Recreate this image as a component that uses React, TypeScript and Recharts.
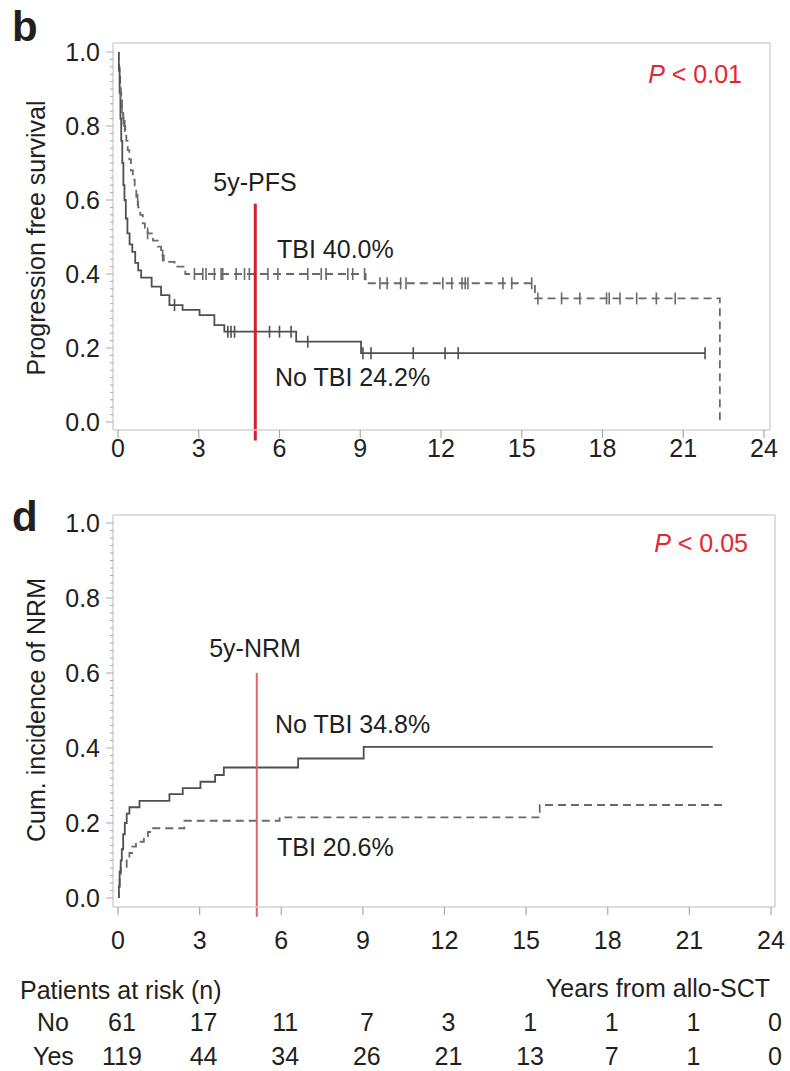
import React from "react";
import { ComposedChart, Line, Scatter, XAxis, YAxis, ReferenceLine } from "recharts";

const FONT = '"Liberation Sans", Arial, Helvetica, sans-serif';
const TEXT = "#231f20";
const RED = "#e4262f";
const BOX = "#d2d2d2";
const TICK = "#a8a8a8";
const SOLID = "#4f4f4f";
const DASHED = "#6a6a6a";

// ---- panel b: progression free survival, step points [years, survival]
const pfsNoTbi: [number, number][] = [
  [0, 1.0], [0.03, 0.95], [0.06, 0.89], [0.09, 0.82], [0.12, 0.76], [0.16, 0.7],
  [0.2, 0.64], [0.24, 0.6], [0.29, 0.55], [0.35, 0.51], [0.43, 0.48], [0.53, 0.46],
  [0.64, 0.43], [0.75, 0.41], [0.86, 0.39], [1.25, 0.366], [1.6, 0.343], [1.91, 0.316],
  [2.4, 0.303], [3.03, 0.289], [3.58, 0.262], [3.95, 0.244], [6.62, 0.217], [9.03, 0.186],
  [21.81, 0.186],
];
const pfsTbi: [number, number][] = [
  [0, 1.0], [0.02, 0.98], [0.04, 0.96], [0.06, 0.94], [0.08, 0.91], [0.1, 0.89],
  [0.12, 0.87], [0.15, 0.85], [0.19, 0.82], [0.23, 0.8], [0.27, 0.78], [0.31, 0.76],
  [0.36, 0.735], [0.42, 0.71], [0.48, 0.68], [0.55, 0.655], [0.62, 0.63], [0.68, 0.6],
  [0.75, 0.58], [0.83, 0.56], [0.92, 0.537], [1.0, 0.525], [1.1, 0.51], [1.3, 0.49],
  [1.48, 0.474], [1.6, 0.45], [1.7, 0.433], [2.1, 0.42], [2.5, 0.4], [9.2, 0.375],
  [15.49, 0.334], [22.36, 0.0],
];
const pfsNoTbiCensored = [2.1, 4.08, 4.2, 4.33, 5.63, 6.0, 6.43, 7.05, 9.1, 9.4, 10.97, 12.15, 12.64, 21.81];
const pfsTbiCensored = [
  0.1, 0.15, 0.2, 0.25, 0.73, 1.1, 1.66, 2.84, 3.15, 3.27, 3.58, 3.83, 3.89, 4.39, 4.7, 4.88,
  5.57, 5.94, 7.05, 7.55, 7.73, 8.54, 8.72, 9.16, 9.73, 10.0, 10.5, 10.7, 12.07, 12.4, 12.78,
  12.9, 13.0, 14.3, 14.63, 15.37, 15.6, 16.48, 17.16, 18.15, 18.25, 18.65, 19.27, 20.0, 20.7,
];

// ---- panel d: cumulative incidence of NRM
const nrmNoTbi: [number, number][] = [
  [0, 0], [0.03, 0.03], [0.06, 0.07], [0.1, 0.1], [0.14, 0.13], [0.19, 0.17], [0.25, 0.2],
  [0.32, 0.225], [0.42, 0.242], [0.79, 0.259], [1.89, 0.277], [2.38, 0.293], [3.03, 0.31],
  [3.57, 0.328], [3.89, 0.348], [6.62, 0.372], [9.03, 0.403], [21.86, 0.403],
];
const nrmTbi: [number, number][] = [
  [0, 0], [0.03, 0.03], [0.06, 0.06], [0.1, 0.083], [0.32, 0.1], [0.42, 0.12], [0.52, 0.137],
  [0.66, 0.15], [0.95, 0.165], [1.1, 0.176], [1.28, 0.186], [2.44, 0.206], [5.94, 0.215],
  [15.5, 0.248], [22.37, 0.248],
];

const xTicks = [0, 3, 6, 9, 12, 15, 18, 21, 24];
const yMinorTicks = Array.from({ length: 51 }, (_, i) => i / 50);
const landmarkYears = 5.1;

const riskTimes = [0, 3, 6, 9, 12, 15, 18, 21, 24];
const riskNo = [61, 17, 11, 7, 3, 1, 1, 1, 0];
const riskYes = [119, 44, 34, 26, 21, 13, 7, 1, 0];

const rows = (pts: [number, number][]) => pts.map(([t, v]) => ({ t, v }));
const valueAt = (pts: [number, number][], t: number) => {
  let v = pts[0][1];
  for (const [pt, pv] of pts) if (pt <= t) v = pv;
  return v;
};
const censorRows = (pts: [number, number][], times: number[]) => times.map((t) => ({ t, v: valueAt(pts, t) }));

function Txt({ x, y, anchor = "middle", size = 25, style, children }: any) {
  const tx = anchor === "start" ? "0" : anchor === "end" ? "-100%" : "-50%";
  return (
    <div
      style={{
        position: "absolute",
        left: x,
        top: y,
        transform: `translate(${tx},-50%)`,
        whiteSpace: "nowrap",
        lineHeight: 1,
        fontFamily: FONT,
        fontSize: size,
        color: TEXT,
        ...style,
      }}
    >
      {children}
    </div>
  );
}

const YTick = (props: any) => {
  const { x, y, payload } = props;
  const v = payload.value;
  const major = Math.abs(v * 5 - Math.round(v * 5)) < 1e-6;
  return (
    <g>
      <line x1={x - (major ? 7 : 3)} x2={x} y1={y} y2={y} stroke={TICK} strokeWidth={1} />
      {major && (
        <text x={x - 13} y={y} dy="0.36em" textAnchor="end" fontFamily={FONT} fontSize={25} fill={TEXT}>
          {v.toFixed(1)}
        </text>
      )}
    </g>
  );
};

const makeXTick = (labelOffset: number) => (props: any) => {
  const { x, y, payload } = props;
  return (
    <g>
      <line x1={x} x2={x} y1={y} y2={y + 8} stroke={TICK} strokeWidth={1.2} />
      <text x={x} y={y + labelOffset} dy="0.36em" textAnchor="middle" fontFamily={FONT} fontSize={25} fill={TEXT}>
        {payload.value}
      </text>
    </g>
  );
};

const makeRiskTick = (values: number[]) => (props: any) => {
  const { x, y, payload } = props;
  const i = riskTimes.indexOf(payload.value);
  return (
    <text x={x + 4} y={y + 16} dy="0.36em" textAnchor="middle" fontFamily={FONT} fontSize={25} fill={TEXT}>
      {values[i]}
    </text>
  );
};

const censorShape = (color: string) => (props: any) => {
  const { cx, cy } = props;
  return <line x1={cx} x2={cx} y1={cy - 6} y2={cy + 6} stroke={color} strokeWidth={1.6} />;
};

const hiddenLine = { type: "stepAfter" as const, dataKey: "v", dot: false, activeDot: false, isAnimationActive: false, stroke: "none", legendType: "none" as const };

export default function App() {
  const lineCommon = { type: "stepAfter" as const, dataKey: "v", dot: false, activeDot: false, isAnimationActive: false, strokeWidth: 1.8 };
  return (
    <div style={{ position: "absolute", left: 0, top: 0, width: 790, height: 1071, background: "#fff", fontFamily: FONT }}>
      {/* panel b */}
      <div style={{ position: "absolute", left: 0, top: 0 }}>
        <ComposedChart width={790} height={470} margin={{ top: 42, right: 19, left: 0, bottom: 0 }}>
          <XAxis
            dataKey="t"
            type="number"
            domain={[0, 24]}
            ticks={xTicks}
            interval={0}
            padding={{ left: 5, right: 6 }}
            height={40}
            tickSize={0}
            tickMargin={0}
            tickLine={false}
            axisLine={{ stroke: BOX, strokeWidth: 1.5 }}
            tick={makeXTick(18)}
            allowDataOverflow
          />
          <XAxis xAxisId="top" dataKey="t" orientation="top" type="number" domain={[0, 24]} padding={{ left: 5, right: 6 }} height={1} tick={false} tickLine={false} axisLine={{ stroke: BOX, strokeWidth: 1.5 }} allowDataOverflow />
          <YAxis
            type="number"
            domain={[0, 1]}
            ticks={yMinorTicks}
            interval={0}
            padding={{ top: 9, bottom: 8 }}
            width={113}
            tickSize={0}
            tickMargin={0}
            tickLine={false}
            axisLine={{ stroke: BOX, strokeWidth: 1.5 }}
            tick={YTick}
            allowDataOverflow
          />
          <YAxis yAxisId="right" orientation="right" type="number" domain={[0, 1]} padding={{ top: 9, bottom: 8 }} width={1} tick={false} tickLine={false} axisLine={{ stroke: BOX, strokeWidth: 1.5 }} allowDataOverflow />
          <Line {...hiddenLine} xAxisId="top" yAxisId="right" data={rows(pfsTbi)} />
          <Line {...lineCommon} data={rows(pfsTbi)} stroke={DASHED} strokeDasharray="8 5" />
          <Line {...lineCommon} data={rows(pfsNoTbi)} stroke={SOLID} />
          <Scatter data={censorRows(pfsTbi, pfsTbiCensored)} dataKey="v" shape={censorShape(DASHED)} isAnimationActive={false} />
          <Scatter data={censorRows(pfsNoTbi, pfsNoTbiCensored)} dataKey="v" shape={censorShape(SOLID)} isAnimationActive={false} />
          <ReferenceLine segment={[{ x: landmarkYears, y: 0.59 }, { x: landmarkYears, y: -0.05 }]} stroke="#d11f2b" strokeWidth={3} ifOverflow="visible" />
        </ComposedChart>
      </div>

      {/* panel d */}
      <div style={{ position: "absolute", left: 0, top: 470 }}>
        <ComposedChart width={790} height={601} margin={{ top: 44, right: 14, left: 0, bottom: 0 }}>
          <XAxis
            dataKey="t"
            type="number"
            domain={[0, 24]}
            ticks={xTicks}
            interval={0}
            padding={{ left: 5, right: 4 }}
            height={99}
            tickSize={0}
            tickMargin={0}
            tickLine={false}
            axisLine={{ stroke: BOX, strokeWidth: 1.5 }}
            tick={makeXTick(33)}
            allowDataOverflow
          />
          <XAxis xAxisId="riskNo" dataKey="t" type="number" domain={[0, 24]} ticks={riskTimes} interval={0} padding={{ left: 5, right: 4 }} height={34} tickSize={0} tickMargin={0} tickLine={false} axisLine={false} tick={makeRiskTick(riskNo)} allowDataOverflow />
          <XAxis xAxisId="riskYes" dataKey="t" type="number" domain={[0, 24]} ticks={riskTimes} interval={0} padding={{ left: 5, right: 4 }} height={31} tickSize={0} tickMargin={0} tickLine={false} axisLine={false} tick={makeRiskTick(riskYes)} allowDataOverflow />
          <XAxis xAxisId="top" dataKey="t" orientation="top" type="number" domain={[0, 24]} padding={{ left: 5, right: 4 }} height={1} tick={false} tickLine={false} axisLine={{ stroke: BOX, strokeWidth: 1.5 }} allowDataOverflow />
          <YAxis
            type="number"
            domain={[0, 1]}
            ticks={yMinorTicks}
            interval={0}
            padding={{ top: 8, bottom: 9 }}
            width={113}
            tickSize={0}
            tickMargin={0}
            tickLine={false}
            axisLine={{ stroke: BOX, strokeWidth: 1.5 }}
            tick={YTick}
            allowDataOverflow
          />
          <YAxis yAxisId="right" orientation="right" type="number" domain={[0, 1]} padding={{ top: 8, bottom: 9 }} width={1} tick={false} tickLine={false} axisLine={{ stroke: BOX, strokeWidth: 1.5 }} allowDataOverflow />
          <Line {...hiddenLine} xAxisId="top" yAxisId="right" data={rows(nrmTbi)} />
          <Line {...hiddenLine} xAxisId="riskNo" data={rows(nrmNoTbi)} />
          <Line {...hiddenLine} xAxisId="riskYes" data={rows(nrmTbi)} />
          <Line {...lineCommon} data={rows(nrmTbi)} stroke={DASHED} strokeDasharray="8 5" />
          <Line {...lineCommon} data={rows(nrmNoTbi)} stroke={SOLID} />
          <ReferenceLine segment={[{ x: landmarkYears, y: 0.6 }, { x: landmarkYears, y: -0.05 }]} stroke="#e2606c" strokeWidth={2} ifOverflow="visible" />
        </ComposedChart>
      </div>

      {/* panel b texts */}
      <Txt x={12} y={27} anchor="start" size={42} style={{ fontWeight: 700 }}>b</Txt>
      <Txt x={36} y={238} style={{ transform: "translate(-50%,-50%) rotate(-90deg)" }}>Progression free survival</Txt>
      <Txt x={255} y={182}>5y-PFS</Txt>
      <Txt x={277} y={249} anchor="start">TBI 40.0%</Txt>
      <Txt x={275} y={377} anchor="start">No TBI 24.2%</Txt>
      <Txt x={742} y={74} anchor="end" style={{ color: RED }}><i>P</i> &lt; 0.01</Txt>

      {/* panel d texts */}
      <Txt x={12} y={517} anchor="start" size={42} style={{ fontWeight: 700 }}>d</Txt>
      <Txt x={36} y={710} style={{ transform: "translate(-50%,-50%) rotate(-90deg)" }}>Cum. incidence of NRM</Txt>
      <Txt x={255} y={648}>5y-NRM</Txt>
      <Txt x={275} y={724} anchor="start">No TBI 34.8%</Txt>
      <Txt x={277} y={847} anchor="start">TBI 20.6%</Txt>
      <Txt x={748} y={543} anchor="end" style={{ color: RED }}><i>P</i> &lt; 0.05</Txt>

      {/* at-risk table headings */}
      <Txt x={20} y={990} anchor="start">Patients at risk (n)</Txt>
      <Txt x={770} y={988} anchor="end">Years from allo-SCT</Txt>
      <Txt x={37} y={1022} anchor="start">No</Txt>
      <Txt x={33} y={1056} anchor="start">Yes</Txt>
    </div>
  );
}
